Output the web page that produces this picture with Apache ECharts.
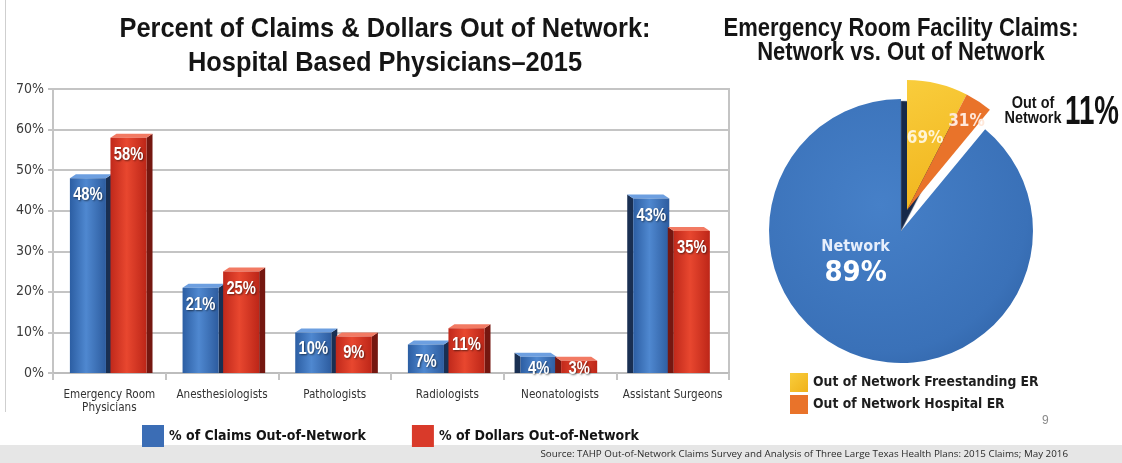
<!DOCTYPE html>
<html>
<head>
<meta charset="utf-8">
<script src="https://cdn.jsdelivr.net/npm/echarts@6/dist/echarts.min.js"></script>
<style>
  html, body { margin: 0; padding: 0; background: #fff; }
  #chart { width: 1122px; height: 463px; }
</style>
</head>
<body>
<div id="chart"></div>
<script>
// Hospital-based physicians: out-of-network share by specialty (2015)
const specialties = ['Emergency Room\nPhysicians', 'Anesthesiologists', 'Pathologists', 'Radiologists', 'Neonatologists', 'Assistant Surgeons'];
const claimsOutOfNetwork = [48, 21, 10, 7, 4, 43];
const dollarsOutOfNetwork = [58, 25, 9, 11, 3, 35];
const yTicks = [0, 10, 20, 30, 40, 50, 60, 70];

// ER facility claims: network vs. out of network, and the split of the out-of-network part
const networkShare = 89;
const outOfNetworkShare = 11;
const outOfNetworkSplitNames = ['Out of Network Freestanding ER', 'Out of Network Hospital ER'];
const outOfNetworkSplit = [69, 31];

const COND = "'DejaVu Sans Condensed', 'Liberation Sans Narrow', sans-serif";
const SANS = "'Liberation Sans', Arial, sans-serif";

// Horizontal squeeze factor so a line set in a regular face fits a given width
const measureCtx = document.createElement('canvas').getContext('2d');
function squeezeFor(text, font, width) {
  measureCtx.font = font;
  return width / measureCtx.measureText(text).width;
}
// A condensed-looking text line: regular face squeezed horizontally
function condensedLine(text, font, x, y, scaleX, align, fill) {
  return {
    type: 'text', x: x, y: y, scaleX: scaleX, silent: true,
    style: { text: text, font: font, fill: fill || '#151515', align: align || 'center', verticalAlign: 'middle' }
  };
}

const chart = echarts.init(document.getElementById('chart'), null, { renderer: 'canvas' });

// Palette for the extruded bars
const barPalette = [
  { left: '#2c5ea3', mid: '#4f88d0', right: '#2d5c9f', side: '#192f52', top: '#6d9fe0', legend: '#3b6db5' },
  { left: '#c0291b', mid: '#e8472f', right: '#bd2618', side: '#751710', top: '#f27a63', legend: '#d93a2a' }
];
const barLabelFont = 'bold 18px ' + SANS;

// Draws one extruded bar (front face, side face, top face) plus its value label
function extrudedBar(seriesIndex) {
  const pal = barPalette[seriesIndex];
  return function (params, api) {
    const i = api.value(0);
    const v = api.value(1);
    const band = api.size([1, 0])[0];
    const w = band * 0.32;
    const base = api.coord([i, 0]);
    const top = api.coord([i, v]);
    const cx = base[0] + (seriesIndex === 0 ? -0.19 : 0.17) * band;
    const x0 = cx - w / 2, x1 = cx + w / 2;
    const y0 = top[1], yb = base[1];
    const d = 6, dy = 4;
    const sideOnRight = i < 4;
    const sidePts = sideOnRight
      ? [[x1, y0], [x1 + d, y0 - dy], [x1 + d, yb], [x1, yb]]
      : [[x0, y0], [x0 - d, y0 - dy], [x0 - d, yb], [x0, yb]];
    const topPts = sideOnRight
      ? [[x0, y0], [x1, y0], [x1 + d, y0 - dy], [x0 + d, y0 - dy]]
      : [[x0, y0], [x1, y0], [x1 - d, y0 - dy], [x0 - d, y0 - dy]];
    const labelY = Math.min(y0 + 17, yb - 4);
    return {
      type: 'group',
      children: [
        { type: 'polygon', shape: { points: sidePts }, style: { fill: pal.side } },
        { type: 'polygon', shape: { points: topPts }, style: { fill: pal.top } },
        {
          type: 'rect',
          shape: { x: x0, y: y0, width: w, height: yb - y0 },
          style: {
            fill: new echarts.graphic.LinearGradient(0, 0, 1, 0, [
              { offset: 0, color: pal.left },
              { offset: 0.45, color: pal.mid },
              { offset: 1, color: pal.right }
            ])
          }
        },
        {
          type: 'text',
          x: cx, y: labelY, scaleX: 0.82,
          style: {
            text: v + '%',
            align: 'center',
            verticalAlign: 'middle',
            fill: '#ffffff',
            font: barLabelFont,
            textShadowColor: 'rgba(0,0,0,0.55)',
            textShadowBlur: 2,
            textShadowOffsetX: 1,
            textShadowOffsetY: 1
          }
        }
      ]
    };
  };
}

const freestandingValue = outOfNetworkShare * outOfNetworkSplit[0] / 100;
const hospitalValue = outOfNetworkShare * outOfNetworkSplit[1] / 100;

// Headings
const title1Font = 'bold 28px ' + SANS;
const title1Lines = ['Percent of Claims & Dollars Out of Network:', 'Hospital Based Physicians\u20132015'];
const title1Squeeze = squeezeFor(title1Lines[0], title1Font, 531);
const title2Font = 'bold 25px ' + SANS;
const title2Lines = ['Emergency Room Facility Claims:', 'Network vs. Out of Network'];
const title2Squeeze = squeezeFor(title2Lines[0], title2Font, 355);
const outNoteFont = 'bold 16px ' + SANS;
const outNoteSqueeze = squeezeFor('Network', outNoteFont, 57);
const outShareFont = 'bold 40px ' + SANS;
const outShareText = outOfNetworkShare + '%';
const outShareSqueeze = squeezeFor(outShareText, outShareFont, 54);

const option = {
  backgroundColor: '#ffffff',
  animation: false,
  title: [
    {
      text: '9',
      left: 1042, top: 415, padding: 0,
      textStyle: { fontFamily: SANS, fontWeight: 'normal', fontSize: 12, color: '#8a8a8a' }
    },
    {
      text: 'Source: TAHP Out-of-Network Claims Survey and Analysis of Three Large Texas Health Plans: 2015 Claims; May 2016',
      left: 1068, top: 449, padding: 0, textAlign: 'right',
      textStyle: { fontFamily: "'Open Sans', 'Noto Sans', sans-serif", fontWeight: 'normal', fontSize: 9.8, color: '#2a2a2a' }
    }
  ],
  legend: [
    {
      data: ['% of Claims Out-of-Network', '% of Dollars Out-of-Network'],
      left: 142, top: 425, padding: 0,
      icon: 'rect', itemWidth: 22, itemHeight: 22, itemGap: 46,
      selectedMode: false,
      textStyle: { fontFamily: COND, fontWeight: 'bold', fontSize: 14, color: '#141414' }
    },
    {
      data: outOfNetworkSplitNames,
      left: 790, top: 373, padding: 0, orient: 'vertical',
      icon: 'rect', itemWidth: 18, itemHeight: 19, itemGap: 3,
      selectedMode: false,
      textStyle: { fontFamily: COND, fontWeight: 'bold', fontSize: 13.8, color: '#1e1e1e' }
    }
  ],
  graphic: [
    { type: 'line', shape: { x1: 5.5, y1: 0, x2: 5.5, y2: 412 }, style: { stroke: '#cfcfcf', lineWidth: 1 }, z: -1, silent: true },
    { type: 'rect', shape: { x: 0, y: 445, width: 1122, height: 18 }, style: { fill: '#e6e6e6' }, z: -1, silent: true },
    condensedLine(title1Lines[0], title1Font, 385, 29, title1Squeeze),
    condensedLine(title1Lines[1], title1Font, 385, 63, title1Squeeze),
    condensedLine(title2Lines[0], title2Font, 901, 29, title2Squeeze),
    condensedLine(title2Lines[1], title2Font, 901, 53.5, title2Squeeze),
    condensedLine('Out of', outNoteFont, 1033, 104, outNoteSqueeze),
    condensedLine('Network', outNoteFont, 1033, 119, outNoteSqueeze),
    condensedLine(outShareText, outShareFont, 1065, 113, outShareSqueeze, 'left', '#111111')
  ],
  grid: {
    left: 53, right: 393, top: 89, bottom: 90,
    show: true, borderColor: '#c4c4c4', borderWidth: 2, backgroundColor: 'transparent'
  },
  xAxis: {
    type: 'category',
    data: specialties,
    axisLine: { lineStyle: { color: '#bdbdbd', width: 2 } },
    axisTick: { show: true, length: 7, lineStyle: { color: '#c4c4c4', width: 2 } },
    axisLabel: { fontFamily: COND, fontSize: 11.6, color: '#333333', lineHeight: 13, margin: 15, interval: 0 }
  },
  yAxis: {
    type: 'value',
    min: yTicks[0], max: yTicks[yTicks.length - 1], interval: 10,
    axisLine: { show: true, lineStyle: { color: '#c4c4c4', width: 2 } },
    axisTick: { show: true, length: 5, lineStyle: { color: '#c4c4c4', width: 2 } },
    splitLine: { lineStyle: { color: '#c4c4c4', width: 2 } },
    axisLabel: { formatter: '{value}%', fontFamily: COND, fontSize: 14, color: '#3a3a3a', margin: 9 }
  },
  series: [
    {
      name: '% of Claims Out-of-Network',
      type: 'custom',
      renderItem: extrudedBar(0),
      itemStyle: { color: barPalette[0].legend },
      encode: { x: 0, y: 1 },
      data: claimsOutOfNetwork.map((v, i) => [i, v]),
      z: 3
    },
    {
      name: '% of Dollars Out-of-Network',
      type: 'custom',
      renderItem: extrudedBar(1),
      itemStyle: { color: barPalette[1].legend },
      encode: { x: 0, y: 1 },
      data: dollarsOutOfNetwork.map((v, i) => [i, v]),
      z: 4
    },
    {
      // Network slice; the out-of-network wedge is drawn pulled out by the next series
      name: 'Network',
      type: 'pie',
      center: [901, 231],
      radius: 132,
      startAngle: 90,
      avoidLabelOverlap: false,
      emphasis: { disabled: true },
      label: { show: false },
      labelLine: { show: false },
      z: 2,
      data: [
        { name: '', value: outOfNetworkShare, itemStyle: { color: 'rgba(0,0,0,0)' } },
        {
          name: 'Network', value: networkShare,
          itemStyle: {
            color: {
              type: 'radial', x: 0.42, y: 0.4, r: 0.8,
              colorStops: [{ offset: 0, color: '#4680c8' }, { offset: 0.7, color: '#3a71b8' }, { offset: 1, color: '#2b5c9e' }]
            }
          },
          label: {
            show: true, position: 'inside',
            formatter: '{a|Network}\n{b|' + networkShare + '%}',
            rich: {
              a: { fontFamily: COND, fontWeight: 'bold', fontSize: 16, color: '#e6eefb', lineHeight: 22, align: 'center' },
              b: { fontFamily: COND, fontWeight: 'bold', fontSize: 29, color: '#ffffff', lineHeight: 32, align: 'center' }
            }
          }
        }
      ],
      labelLayout: function () { return { dx: -22, dy: -33 }; }
    },
    {
      // Out-of-network wedge, split by ER type; the yellow slice's offset shadow
      // reads as the dark side wall of the network slice
      name: 'Out of Network',
      type: 'pie',
      center: [907, 210],
      radius: 130,
      startAngle: 90,
      avoidLabelOverlap: false,
      emphasis: { disabled: true },
      labelLine: { show: false },
      z: 3,
      label: { show: true, position: 'inside', fontFamily: COND, fontWeight: 'bold', fontSize: 17 },
      data: [
        {
          name: outOfNetworkSplitNames[0], value: freestandingValue,
          itemStyle: {
            color: { type: 'linear', x: 0, y: 0, x2: 1, y2: 1, colorStops: [{ offset: 0, color: '#f9cd3c' }, { offset: 1, color: '#f0b21a' }] },
            shadowColor: '#16294a', shadowBlur: 1, shadowOffsetX: -6, shadowOffsetY: 21
          },
          label: { formatter: outOfNetworkSplit[0] + '%', color: '#fff4d4' }
        },
        {
          name: outOfNetworkSplitNames[1], value: hospitalValue,
          itemStyle: { color: '#e9732a' },
          label: { formatter: outOfNetworkSplit[1] + '%', color: '#ffe8da' }
        },
        { name: '', value: networkShare, itemStyle: { color: 'rgba(0,0,0,0)' }, label: { show: false } }
      ],
      labelLayout: function (p) {
        if (p.dataIndex === 0) return { dx: 2, dy: -5 };
        if (p.dataIndex === 1) return { dx: 22, dy: -32 };
        return {};
      }
    }
  ]
};

chart.setOption(option);
</script>
</body>
</html>
